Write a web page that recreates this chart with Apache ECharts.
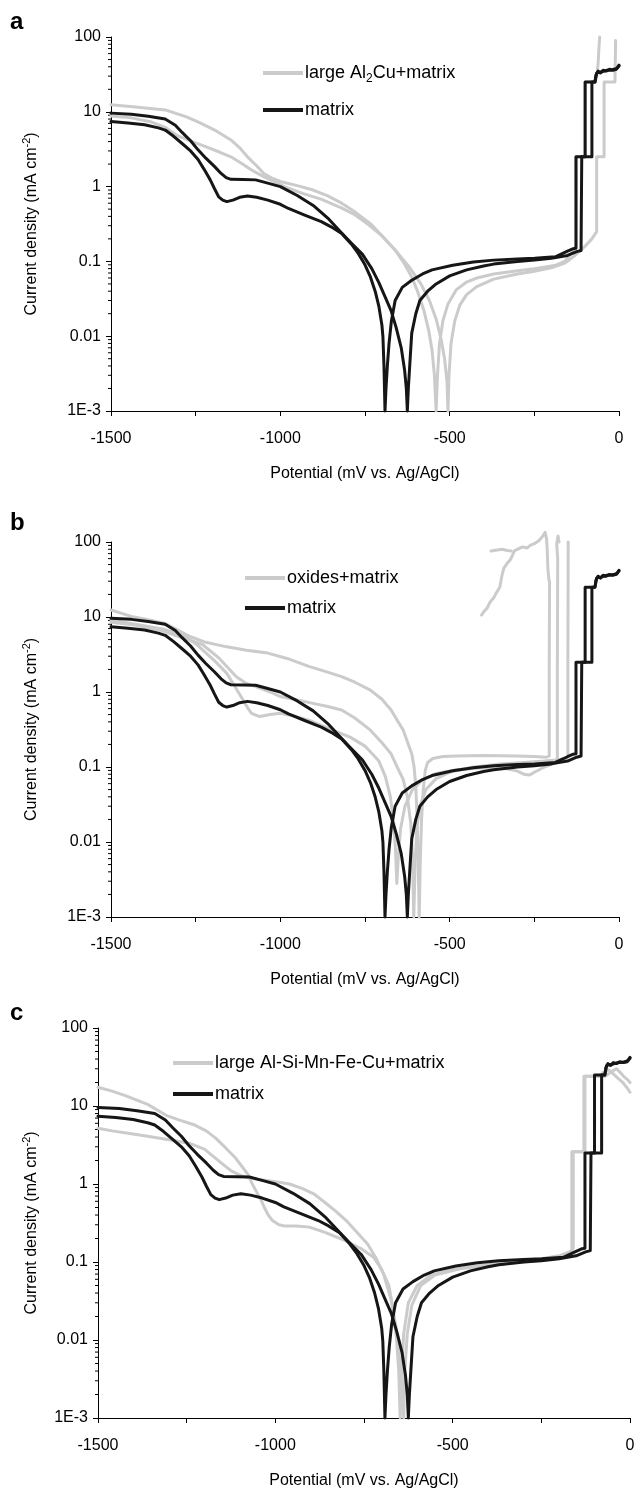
<!DOCTYPE html>
<html>
<head>
    <meta charset="utf-8">
    <title>Polarization curves</title>
    <script type="text/javascript" src="https://cdn.jsdelivr.net/npm/echarts@6.0.0/dist/echarts.min.js"></script>
    <style>
        body {
            margin: 0px;
            padding: 0px;
            background: #fff;
        }
        #chart {
            width: 644px;
            height: 1491px;
        }
    </style>
</head>
<body>
<div id="chart"></div>
<script type="text/javascript">
    // ---- data: [potential mV, current density mA/cm2] ----
    // matrix curves (same in all three panels)
    var matrixP = [[-1500, 9.6], [-1440, 9.3], [-1390, 8.7], [-1340, 8.0], [-1310, 6.6], [-1290, 5.3], [-1265, 4.1],
        [-1243, 3.1], [-1220, 2.4], [-1194, 1.85], [-1175, 1.5], [-1160, 1.32], [-1146, 1.25], [-1110, 1.24],
        [-1073, 1.23], [-1040, 1.12], [-1000, 1.0], [-950, 0.76], [-903, 0.56], [-860, 0.38], [-819, 0.24],
        [-790, 0.175], [-758, 0.125], [-730, 0.08], [-709, 0.052], [-690, 0.033], [-673, 0.022], [-658, 0.013],
        [-643, 0.007], [-633, 0.0035], [-628, 0.002], [-625, 0.001],
        [-622, 0.002], [-618, 0.004], [-612, 0.011], [-600, 0.02], [-588, 0.03], [-565, 0.04], [-540, 0.05],
        [-500, 0.064], [-450, 0.077], [-400, 0.087], [-370, 0.092], [-300, 0.1], [-250, 0.104], [-200, 0.11],
        [-152, 0.12], [-125, 0.135], [-112, 0.14], [-110, 0.14], [-110, 2.5], [-80, 2.5], [-80, 25], [-71, 25],
        [-68, 31], [-62, 35], [-55, 33], [-47, 36], [-38, 35], [-28, 37], [-18, 36], [-8, 37], [0, 42]];
    var matrixQ = [[-1500, 7.4], [-1450, 7.1], [-1401, 6.7], [-1360, 6.1], [-1340, 5.7], [-1315, 4.7], [-1291, 3.8],
        [-1265, 3.0], [-1243, 2.3], [-1225, 1.7], [-1207, 1.23], [-1195, 0.95], [-1182, 0.73], [-1170, 0.66],
        [-1158, 0.63], [-1140, 0.66], [-1120, 0.72], [-1097, 0.75], [-1070, 0.72], [-1037, 0.66], [-1000, 0.58],
        [-976, 0.51], [-930, 0.42], [-879, 0.34], [-850, 0.29], [-819, 0.237], [-790, 0.17], [-770, 0.128],
        [-750, 0.09], [-734, 0.062], [-720, 0.04], [-709, 0.025], [-700, 0.014], [-697, 0.0097], [-694, 0.004],
        [-691, 0.001],
        [-688, 0.002], [-684, 0.004], [-679, 0.008], [-672, 0.016], [-661, 0.03], [-640, 0.045], [-612, 0.056],
        [-580, 0.068], [-552, 0.077], [-491, 0.089], [-430, 0.098], [-370, 0.104], [-300, 0.108], [-249, 0.11],
        [-188, 0.115], [-152, 0.137], [-135, 0.148], [-127, 0.15], [-127, 2.5], [-100, 2.5], [-100, 25], [-71, 25],
        [-66, 33], [-60, 34], [-52, 34], [-44, 35], [-35, 36], [-25, 36], [-15, 37], [-6, 38], [0, 41]];

    // panel a: large Al2Cu+matrix
    var alCuG1 = [[-1500, 12.4], [-1420, 11.5], [-1340, 10.6], [-1279, 8.6], [-1240, 7.2], [-1194, 5.7], [-1146, 4.2],
        [-1120, 3.3], [-1097, 2.5], [-1070, 1.9], [-1049, 1.5], [-1025, 1.3], [-1000, 1.17], [-950, 1.03],
        [-903, 0.9], [-860, 0.75], [-819, 0.6], [-780, 0.46], [-734, 0.32], [-700, 0.22], [-661, 0.142],
        [-635, 0.095], [-612, 0.062], [-595, 0.04], [-576, 0.022], [-562, 0.012], [-552, 0.0065], [-545, 0.003],
        [-540, 0.001],
        [-536, 0.003], [-530, 0.008], [-520, 0.016], [-505, 0.027], [-480, 0.042], [-450, 0.053], [-420, 0.06],
        [-370, 0.068], [-300, 0.075], [-250, 0.08], [-190, 0.088], [-160, 0.1], [-140, 0.13], [-127, 0.16],
        [-127, 2.5], [-100, 2.5], [-100, 25], [-70, 25], [-64, 33], [-61, 50], [-59, 75], [-57, 100]];
    var alCuG2 = [[-1500, 8.8], [-1440, 8.3], [-1380, 7.3], [-1340, 6.2], [-1304, 4.8], [-1260, 4.0], [-1219, 3.4],
        [-1180, 2.9], [-1146, 2.5], [-1115, 2.05], [-1085, 1.67], [-1055, 1.4], [-1025, 1.2], [-976, 0.95],
        [-930, 0.8], [-880, 0.68], [-820, 0.52], [-780, 0.42], [-740, 0.31], [-700, 0.22], [-660, 0.14],
        [-620, 0.085], [-585, 0.05], [-560, 0.03], [-540, 0.017], [-525, 0.009], [-515, 0.005], [-508, 0.0025],
        [-505, 0.001],
        [-502, 0.003], [-496, 0.008], [-485, 0.016], [-470, 0.026], [-450, 0.036], [-420, 0.046], [-370, 0.058],
        [-300, 0.068], [-250, 0.074], [-200, 0.082], [-160, 0.095], [-130, 0.12], [-100, 0.16], [-80, 0.2],
        [-66, 0.25], [-66, 2.5], [-44, 2.5], [-44, 25], [-12, 25], [-11, 45], [-10, 90]];

    // panel b: oxides+matrix
    var oxG1 = [[-1500, 12.4], [-1440, 10.2], [-1390, 9.2], [-1340, 8.2], [-1300, 6.6], [-1267, 5.5], [-1220, 4.6],
        [-1158, 4.0], [-1100, 3.6], [-1037, 3.3], [-980, 2.8], [-916, 2.2], [-870, 1.9], [-819, 1.6], [-780, 1.35],
        [-734, 1.06], [-700, 0.8], [-673, 0.575], [-655, 0.42], [-637, 0.31], [-622, 0.2], [-612, 0.15],
        [-605, 0.1], [-600, 0.055], [-596, 0.02], [-593, 0.006], [-590, 0.001],
        [-587, 0.005], [-583, 0.02], [-578, 0.05], [-572, 0.09], [-565, 0.115], [-550, 0.13], [-520, 0.138],
        [-480, 0.14], [-400, 0.142], [-300, 0.14], [-250, 0.138], [-215, 0.135], [-206, 0.14], [-206, 2],
        [-205, 30]];
    var oxG2 = [[-1500, 9.1], [-1420, 7.9], [-1340, 6.8], [-1279, 5.5], [-1250, 4.4], [-1219, 3.3], [-1190, 2.5],
        [-1158, 1.77], [-1135, 1.2], [-1110, 0.78], [-1095, 0.6], [-1085, 0.52], [-1061, 0.47], [-1030, 0.5],
        [-1000, 0.52], [-960, 0.48], [-916, 0.42], [-860, 0.33], [-794, 0.25], [-750, 0.19], [-709, 0.12],
        [-690, 0.075], [-675, 0.04], [-665, 0.018], [-660, 0.008], [-656, 0.0028],
        [-652, 0.006], [-645, 0.015], [-632, 0.03], [-610, 0.05], [-580, 0.068], [-540, 0.082], [-480, 0.092],
        [-400, 0.098], [-330, 0.095], [-300, 0.088], [-280, 0.08], [-265, 0.078], [-250, 0.085], [-220, 0.1],
        [-195, 0.11], [-182, 0.115], [-182, 2], [-181, 60], [-184, 95], [-180, 120], [-177, 100]];
    var oxG3 = [[-1500, 8.5], [-1430, 7.8], [-1350, 6.6], [-1300, 5.5], [-1230, 4.3], [-1180, 2.8], [-1130, 1.6],
        [-1100, 1.3], [-1073, 1.18], [-1030, 1.0], [-1000, 0.87], [-950, 0.78], [-900, 0.7], [-860, 0.64],
        [-819, 0.575], [-780, 0.45], [-734, 0.31], [-700, 0.21], [-673, 0.15], [-655, 0.1], [-637, 0.068],
        [-625, 0.04], [-615, 0.018], [-610, 0.007], [-606, 0.001],
        [-602, 0.005], [-597, 0.015], [-588, 0.03], [-570, 0.05], [-540, 0.07], [-500, 0.085], [-430, 0.1],
        [-350, 0.11], [-280, 0.115], [-220, 0.12], [-180, 0.125], [-160, 0.13], [-151, 0.135], [-151, 2],
        [-150, 100]];
    var oxNoise = [[-406, 10.6], [-398, 12], [-390, 13], [-380, 16], [-370, 18], [-362, 21], [-352, 25], [-346, 35],
        [-340, 45], [-330, 52], [-321, 58], [-315, 66], [-309, 76], [-300, 80], [-285, 86], [-272, 83], [-261, 91],
        [-250, 95], [-236, 105], [-226, 118], [-218, 135], [-214, 110], [-212, 80], [-210, 45], [-207, 31]];
    var oxSpur = [[-378, 76], [-360, 78], [-345, 80], [-330, 77], [-318, 76]];

    // panel c: large Al-Si-Mn-Fe-Cu+matrix
    var siG1 = [[-1500, 17.4], [-1460, 15.5], [-1423, 13.6], [-1360, 10.5], [-1308, 7.6], [-1270, 6.6], [-1227, 5.7],
        [-1195, 4.8], [-1169, 3.9], [-1140, 2.9], [-1112, 2.15], [-1095, 1.7], [-1077, 1.32], [-1065, 1.0],
        [-1054, 0.81], [-1040, 0.62], [-1031, 0.5], [-1020, 0.4], [-1008, 0.34], [-990, 0.3], [-974, 0.29],
        [-940, 0.29], [-904, 0.28], [-860, 0.24], [-805, 0.19], [-760, 0.15], [-723, 0.115], [-700, 0.08],
        [-680, 0.05], [-668, 0.025], [-658, 0.01], [-652, 0.004], [-648, 0.001],
        [-644, 0.004], [-638, 0.012], [-625, 0.03], [-600, 0.05], [-560, 0.068], [-500, 0.08], [-420, 0.09],
        [-330, 0.1], [-250, 0.11], [-200, 0.12], [-170, 0.135], [-164, 0.14], [-164, 2.6], [-130, 2.6],
        [-130, 24], [-87, 24], [-75, 27], [-60, 29], [-48, 26], [-35, 23], [-20, 20], [-8, 17], [0, 15]];
    var siG2 = [[-1500, 5.2], [-1460, 4.8], [-1420, 4.5], [-1360, 4.1], [-1300, 3.7], [-1240, 3.3], [-1200, 2.8],
        [-1169, 2.15], [-1145, 1.75], [-1123, 1.46], [-1100, 1.3], [-1077, 1.2], [-1050, 1.15], [-1020, 1.1],
        [-990, 1.05], [-960, 1.0], [-925, 0.88], [-890, 0.74], [-860, 0.58], [-830, 0.45], [-800, 0.34],
        [-770, 0.24], [-740, 0.17], [-715, 0.11], [-695, 0.07], [-675, 0.035], [-660, 0.015], [-648, 0.005],
        [-641, 0.0018], [-638, 0.001],
        [-635, 0.004], [-628, 0.012], [-615, 0.028], [-590, 0.05], [-550, 0.068], [-480, 0.082], [-400, 0.09],
        [-300, 0.1], [-220, 0.11], [-180, 0.125], [-165, 0.14], [-160, 0.15], [-160, 2.6], [-127, 2.6],
        [-127, 24], [-90, 24], [-70, 24], [-50, 28], [-38, 30], [-28, 27], [-18, 24], [-8, 22], [0, 20]];

    // axis text
    var yTickLabels = ['1E-3', '0.01', '0.1', '1', '10', '100'];
    var panelLetters = ['a', 'b', 'c'];
    var legendNames = ['large Al2Cu+matrix', 'oxides+matrix', 'large Al-Si-Mn-Fe-Cu+matrix'];

    var GRAY = '#cbcbcb';
    var BLACK = '#161616';
    var FONT = 'Liberation Sans';

    // panel boxes
    var panels = [
        {left: 111, top: 37, width: 508, height: 374, nameGap: 68, legendLeft: 258, legendTop: 56, legendGap: 13, letterTop: 10},
        {left: 111, top: 542, width: 508, height: 375, nameGap: 68, legendLeft: 240, legendTop: 561, legendGap: 6, letterTop: 511},
        {left: 98, top: 1028, width: 532, height: 390, nameGap: 55, legendLeft: 168, legendTop: 1046, legendGap: 7, letterTop: 1001}
    ];

    // minor log ticks 2..9 per decade
    var minorVals = [];
    for (var d = -3; d < 2; d++) {
        for (var k = 2; k < 10; k++) {
            minorVals.push([k * Math.pow(10, d)]);
        }
    }

    var chart = echarts.init(document.getElementById('chart'));

    var grids = [], xAxes = [], yAxes = [], legends = [], graphics = [], series = [];

    function yLabel(v) {
        var e = Math.round(Math.log(v) / Math.LN10);
        return yTickLabels[e + 3];
    }

    function legendLabel(name) {
        if (name === 'large Al2Cu+matrix') {
            return 'large Al{sub|2}Cu+matrix';
        }
        return name;
    }

    for (var i = 0; i < 3; i++) {
        var p = panels[i];
        grids.push({left: p.left, top: p.top, width: p.width, height: p.height, containLabel: false});
        xAxes.push({
            type: 'value', gridIndex: i, position: 'bottom', min: -1500, max: 0, interval: 500,
            name: 'Potential (mV vs. Ag/AgCl)', nameLocation: 'middle', nameGap: 55,
            nameTextStyle: {fontFamily: FONT, fontSize: 16, color: '#000'},
            axisLine: {onZero: false, lineStyle: {color: '#000', width: 1}},
            axisTick: {show: true, length: 5, lineStyle: {color: '#000'}},
            minorTick: {show: true, splitNumber: 2, length: 5, lineStyle: {color: '#000'}},
            axisLabel: {
                fontFamily: FONT, fontSize: 16, color: '#000', margin: 20,
                formatter: function (v) { return String(v); }
            },
            splitLine: {show: false}
        });
        yAxes.push({
            type: 'log', gridIndex: i, position: 'left', min: 0.001, max: 100, logBase: 10,
            name: 'Current density (mA cm{sup|-2})', nameLocation: 'middle', nameGap: p.nameGap, nameRotate: 90,
            nameTextStyle: {
                fontFamily: FONT, fontSize: 16, color: '#000', lineHeight: 22,
                rich: {sup: {fontFamily: FONT, fontSize: 11, color: '#000', lineHeight: 12, verticalAlign: 'top'}}
            },
            axisLine: {show: true, onZero: false, lineStyle: {color: '#000', width: 1}},
            axisTick: {show: true, length: 5, lineStyle: {color: '#000'}},
            axisLabel: {fontFamily: FONT, fontSize: 16, color: '#000', margin: 10, formatter: yLabel},
            splitLine: {show: false}
        });
        legends.push({
            data: [legendNames[i], 'matrix'],
            orient: 'vertical', left: p.legendLeft, top: p.legendTop, itemGap: p.legendGap,
            icon: 'rect', itemWidth: 40, itemHeight: 4, selectedMode: false,
            formatter: legendLabel,
            textStyle: {
                fontFamily: FONT, fontSize: 18, color: '#000', lineHeight: 24, padding: [0, 0, 0, -3],
                rich: {sub: {fontFamily: FONT, fontSize: 12, color: '#000', lineHeight: 13, verticalAlign: 'bottom'}}
            }
        });
        graphics.push({
            type: 'text', left: 10, top: p.letterTop,
            style: {text: panelLetters[i], font: 'bold 24px ' + FONT, fill: '#000'}
        });
        // minor ticks on the log axis
        series.push({
            type: 'custom', xAxisIndex: i, yAxisIndex: i, data: minorVals, silent: true, z: 1,
            renderItem: function (params, api) {
                var pt = api.coord([-1500, api.value(0)]);
                return {
                    type: 'line',
                    shape: {x1: pt[0] - 3, y1: pt[1], x2: pt[0], y2: pt[1]},
                    style: {stroke: '#000', lineWidth: 1}
                };
            }
        });
    }

    function curve(name, data, idx, color) {
        return {
            name: name, type: 'line', xAxisIndex: idx, yAxisIndex: idx, data: data,
            showSymbol: false, symbol: 'none', clip: false, animation: false,
            z: color === BLACK ? 4 : 3,
            lineStyle: {color: color, width: 3, join: 'round', cap: 'round'},
            itemStyle: {color: color}
        };
    }

    // panel a
    series.push(curve(legendNames[0], alCuG1, 0, GRAY));
    series.push(curve(legendNames[0], alCuG2, 0, GRAY));
    series.push(curve('matrix', matrixP, 0, BLACK));
    series.push(curve('matrix', matrixQ, 0, BLACK));
    // panel b
    series.push(curve(legendNames[1], oxG1, 1, GRAY));
    series.push(curve(legendNames[1], oxG2, 1, GRAY));
    series.push(curve(legendNames[1], oxG3, 1, GRAY));
    series.push(curve(legendNames[1], oxNoise, 1, GRAY));
    series.push(curve(legendNames[1], oxSpur, 1, GRAY));
    series.push(curve('matrix', matrixP, 1, BLACK));
    series.push(curve('matrix', matrixQ, 1, BLACK));
    // panel c
    series.push(curve(legendNames[2], siG1, 2, GRAY));
    series.push(curve(legendNames[2], siG2, 2, GRAY));
    series.push(curve('matrix', matrixP, 2, BLACK));
    series.push(curve('matrix', matrixQ, 2, BLACK));

    chart.setOption({
        backgroundColor: '#fff',
        animation: false,
        grid: grids,
        xAxis: xAxes,
        yAxis: yAxes,
        legend: legends,
        graphic: graphics,
        series: series
    });
</script>
</body>
</html>
